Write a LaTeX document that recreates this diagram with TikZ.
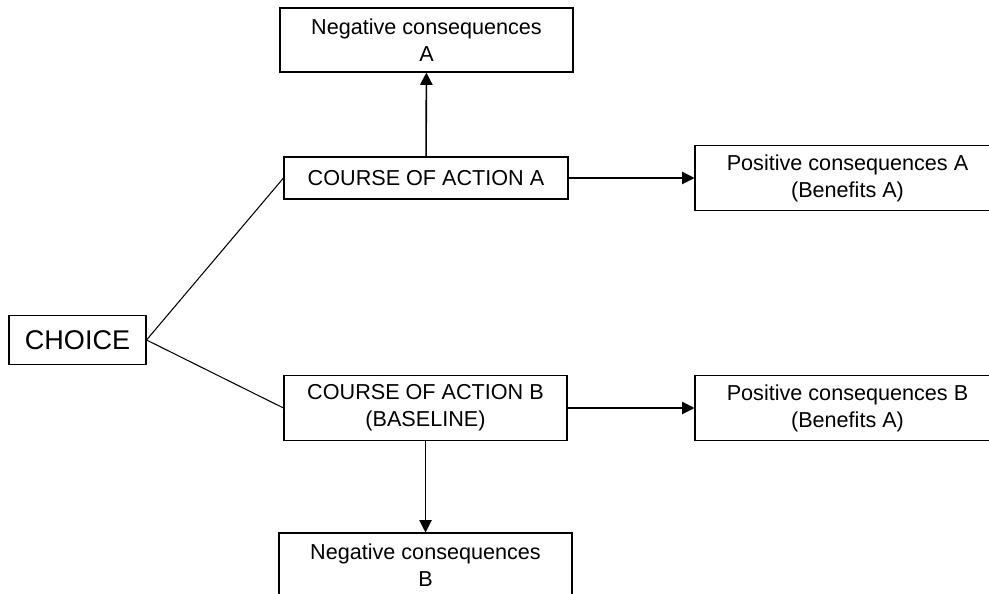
\documentclass[tikz,border=0pt]{standalone}
\usepackage{fontspec}
\setmainfont{Liberation Sans}
\usetikzlibrary{positioning,arrows.meta}

\begin{document}
\begin{tikzpicture}[
  x=0.02cm, y=-0.02cm,
  box/.style={draw, line width=0.6pt, align=center, inner sep=0pt,
              font=\fontsize{12.3}{15.4}\selectfont},
  arr/.style={-{Triangle[length=7pt,width=7pt]}, line width=0.6pt},
  link/.style={line width=0.6pt},
]
\useasboundingbox (0,0) rectangle (989,594);
\clip (0,0) rectangle (989,594);
% Choice
\node[box, minimum width=137*0.02cm, minimum height=49*0.02cm,
      font=\fontsize{15.4}{18}\selectfont] (choice) at (77.5,340) {CHOICE};
% Courses of action
\node[box, minimum width=284*0.02cm, minimum height=42*0.02cm] (actA) at (426,178)
  {COURSE OF ACTION A};
\node[box, minimum width=283*0.02cm, minimum height=65*0.02cm] (actB) at (425.5,408)
  {COURSE OF ACTION B\\(BASELINE)};
% Consequences
\node[box, minimum width=293*0.02cm, minimum height=64*0.02cm] (negA) at (426.5,40)
  {Negative consequences\\A};
\node[box, minimum width=305*0.02cm, minimum height=65*0.02cm] (posA) at (847.5,178)
  {Positive consequences A\\(Benefits A)};
\node[box, minimum width=305*0.02cm, minimum height=65*0.02cm] (posB) at (847.5,408)
  {Positive consequences B\\(Benefits A)};
\node[box, minimum width=293*0.02cm, minimum height=64*0.02cm] (negB) at (425.5,565)
  {Negative consequences\\B};
% Links
\draw[link] (choice.east) -- (actA.west);
\draw[link] (choice.east) -- (actB.west);
\draw[arr, line width=0.9pt] (actA) -- (negA);
\draw[arr] (actA) -- (posA);
\draw[arr] (actB) -- (posB);
\draw[arr] (actB) -- (negB);
\end{tikzpicture}
\end{document}
